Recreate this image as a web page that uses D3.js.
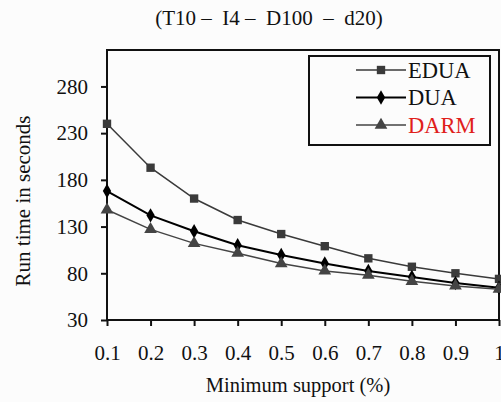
<!DOCTYPE html>
<html>
<head>
<meta charset="utf-8">
<script src="https://cdn.jsdelivr.net/npm/d3@7"></script>
<style>
  body { margin: 0; background: #fcfcfc; }
  svg { display: block; font-family: "Liberation Serif", "Times New Roman", serif; }
</style>
</head>
<body>
<svg width="501" height="402"></svg>
<script>
// Data
const supports = [0.1, 0.2, 0.3, 0.4, 0.5, 0.6, 0.7, 0.8, 0.9, 1];
const edua = [240, 193, 160, 137, 122, 109, 96, 87, 80, 74];
const dua  = [168, 142, 125, 110, 99.5, 90.5, 82.5, 76, 69.5, 64.5];
const darm = [148, 127, 112, 101.5, 90.5, 82.5, 78, 71.5, 66.5, 63];
const yTicks = [30, 80, 130, 180, 230, 280];
const seriesNames = ["EDUA", "DUA", "DARM"];

const series = [
  { name: seriesNames[0], values: edua, color: "#3a3a3a", symbol: d3.symbolSquare, size: 70, width: 1.5, text: "#111" },
  { name: seriesNames[1], values: dua, color: "#000", symbol: d3.symbolDiamond, size: 60, width: 2, text: "#111" },
  { name: seriesNames[2], values: darm, color: "#444", symbol: d3.symbolTriangle, size: 70, width: 1.5, text: "#e0201b" }
];

let margin = { left: 107, right: 1, top: 50, bottom: 82 };
let svg = d3.select('svg');
let w = 501 - margin.left - margin.right;
let h = 402 - margin.top - margin.bottom;

let xScale = d3.scaleLinear().domain([0.1, 1]).range([0, w - 1]);
let yScale = d3.scaleLinear().domain([30, 319]).range([h, 0]);

let g = svg.append('g').attr('transform', `translate(${margin.left},${margin.top})`);

// Plot frame
g.append('rect')
  .attr('x', 0).attr('y', 0)
  .attr('width', w - 1).attr('height', h)
  .attr('fill', 'none')
  .attr('stroke', '#111')
  .attr('stroke-width', 2);

// X-Axis
let xAxis = g.append('g')
  .attr('transform', `translate(0,${h})`)
  .call(d3.axisBottom(xScale).tickValues(supports).tickSize(6).tickPadding(19)
    .tickFormat(d => d === 1 ? '1' : d3.format('.1f')(d)));
xAxis.select('.domain').remove();

// Y-Axis
let yAxis = g.append('g')
  .call(d3.axisLeft(yScale).tickValues(yTicks).tickSize(6).tickPadding(13));
yAxis.select('.domain').remove();

[xAxis, yAxis].forEach(ax => {
  ax.selectAll('.tick line').attr('stroke', '#111').attr('stroke-width', 2);
  ax.selectAll('.tick text')
    .attr('fill', '#111')
    .style('font-size', '21px')
    .style('font-family', '"Liberation Serif", serif');
});

// Lines and markers
let line = d3.line()
  .x((d, i) => xScale(supports[i]))
  .y(d => yScale(d));

series.forEach(s => {
  g.append('path')
    .datum(s.values)
    .attr('fill', 'none')
    .attr('stroke', s.color)
    .attr('stroke-width', s.width)
    .attr('d', line);

  g.selectAll(null)
    .data(s.values)
    .enter()
    .append('path')
    .attr('d', d3.symbol().type(s.symbol).size(s.size))
    .attr('transform', (d, i) => `translate(${xScale(supports[i])},${yScale(d)})`)
    .attr('fill', s.color);
});

// Legend
let legend = svg.append('g').attr('transform', 'translate(309,56)');
legend.append('rect')
  .attr('width', 181).attr('height', 89)
  .attr('fill', '#fcfcfc')
  .attr('stroke', '#111')
  .attr('stroke-width', 2);

series.forEach((s, i) => {
  let ly = 14 + i * 27.5;
  legend.append('line')
    .attr('x1', 47).attr('x2', 97)
    .attr('y1', ly).attr('y2', ly)
    .attr('stroke', s.color)
    .attr('stroke-width', s.width);
  legend.append('path')
    .attr('d', d3.symbol().type(s.symbol).size(s.size)())
    .attr('transform', `translate(72,${ly})`)
    .attr('fill', s.color);
  legend.append('text')
    .text(s.name)
    .attr('x', 99)
    .attr('y', ly + 7.5)
    .attr('fill', s.text)
    .style('font-size', '22.5px');
});

// Chart Title
svg.append('text')
  .text('(T10 –  I4 –  D100  –  d20)')
  .attr('x', 269)
  .attr('y', 25)
  .attr('text-anchor', 'middle')
  .attr('fill', '#111')
  .style('white-space', 'pre')
  .style('font-size', '21px');

// Axis titles
svg.append('text')
  .text('Minimum support (%)')
  .attr('x', 298)
  .attr('y', 392)
  .attr('text-anchor', 'middle')
  .attr('fill', '#111')
  .style('font-size', '20.5px');

svg.append('text')
  .text('Run time in seconds')
  .attr('transform', 'translate(30,201) rotate(-90)')
  .attr('text-anchor', 'middle')
  .attr('fill', '#111')
  .style('font-size', '21px');
</script>
</body>
</html>
